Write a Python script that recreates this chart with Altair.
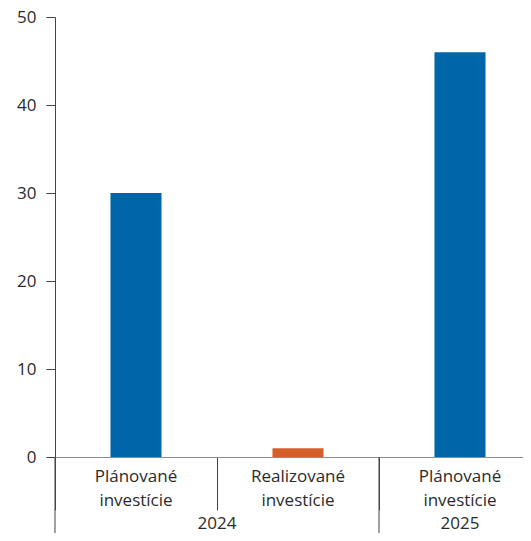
import altair as alt
import pandas as pd

years = ["2024", "2024", "2025"]
categories = ["Plánované investície", "Realizované investície", "Plánované investície"]
values = [30, 1, 46]
kinds = ["Plánované", "Realizované", "Plánované"]
y_ticks = [0, 10, 20, 30, 40, 50]

keys = [f"{y}|{c}" for y, c in zip(years, categories)]
df = pd.DataFrame({"key": keys, "year": years, "category": categories,
                   "value": values, "kind": kinds})

FONT = "Open Sans"
FS = 17
TXT = "#2b2b2b"
LINE = "#444444"
H = 440

xscale = alt.Scale(domain=keys, range=[0, 486], paddingInner=0, paddingOuter=0)
x = alt.X("key:N", scale=xscale,
          axis=alt.Axis(title=None, labels=False, domain=True, domainColor="#8c8c8c",
                        ticks=True, tickBand="extent", tickSize=53, tickColor=LINE,
                        tickWidth=1, domainWidth=1))

base = alt.Chart(df)

bars = base.mark_bar(width=alt.RelativeBandSize(0.315)).encode(
    x=x,
    y=alt.Y("value:Q", scale=alt.Scale(domain=[0, 50], nice=False),
            axis=alt.Axis(title=None, values=y_ticks, grid=False, tickSize=9,
                          labelPadding=10, labelFontSize=FS, labelFont=FONT,
                          labelColor=TXT, domainColor=LINE, tickColor=LINE,
                          labelFlush=False)),
    color=alt.Color("kind:N",
                    scale=alt.Scale(domain=["Plánované", "Realizované"],
                                    range=["#0066AA", "#D55F28"]),
                    legend=None),
)

cat_labels = base.transform_calculate(
    lines="split(datum.category, ' ')"
).mark_text(font=FONT, fontSize=FS, color=TXT, baseline="top", align="center",
            lineHeight=24).encode(
    x=alt.X("key:N", scale=xscale),
    y=alt.value(H + 12),
    text="lines:N",
)

# separators between year groups (long lines)
group_starts = base.transform_window(
    rn="row_number()", groupby=["year"]
).transform_filter("datum.rn == 1").mark_rule(color=LINE, strokeWidth=1).encode(
    x=alt.X("key:N", scale=xscale, bandPosition=0),
    y=alt.value(H),
    y2=alt.value(H + 120),
)

# year labels: 2024 centred on the boundary between its two categories
y2024 = base.transform_filter("datum.year == '2024' && datum.kind == 'Realizované'").mark_text(
    font=FONT, fontSize=FS, color=TXT, baseline="bottom", align="center").encode(
    x=alt.X("key:N", scale=xscale, bandPosition=0),
    y=alt.value(H + 76),
    text="year:N",
)
y2025 = base.transform_filter("datum.year == '2025'").mark_text(
    font=FONT, fontSize=FS, color=TXT, baseline="bottom", align="center").encode(
    x=alt.X("key:N", scale=xscale, bandPosition=0.5),
    y=alt.value(H + 76),
    text="year:N",
)

chart = alt.layer(bars, group_starts, cat_labels, y2024, y2025).properties(
    width=468, height=H,
    autosize=alt.AutoSizeParams(type="none"),
    padding={"left": 47, "top": 9, "right": 0, "bottom": 76},
).configure_view(stroke=None).configure_axis(labelFont=FONT)

chart.save("out.html", embed_options={"renderer": "svg", "actions": False})
